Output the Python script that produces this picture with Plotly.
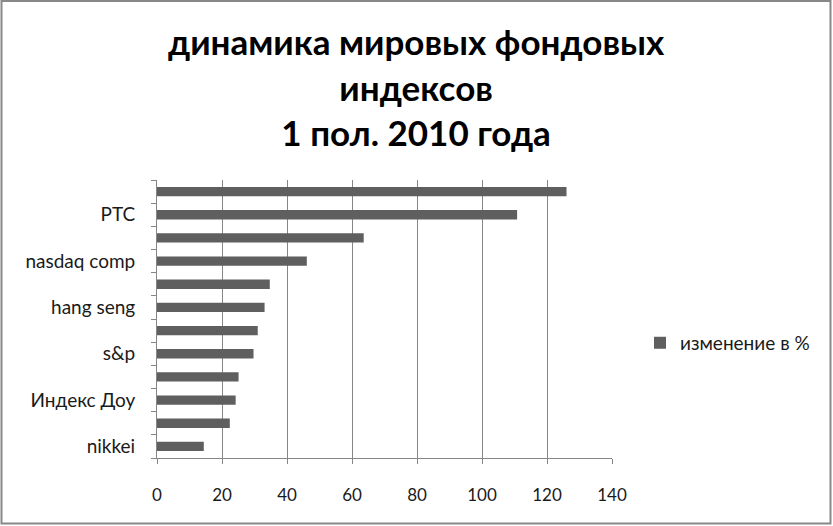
import plotly.graph_objects as go

# indices, top to bottom (only every other label is printed on the chart)
indices = ['ММВБ', 'PTC', 'Bovespa', 'nasdaq comp', 'DAX', 'hang seng',
           'FTSE 100', 's&p', 'CAC 40', 'Индекс Доу', 'Shanghai', 'nikkei']
shown_labels = ['', 'PTC', '', 'nasdaq comp', '', 'hang seng',
                '', 's&p', '', 'Индекс Доу', '', 'nikkei']
change_pct = [126.0, 110.8, 63.6, 46.1, 34.7, 33.1, 31.0, 29.7, 25.1, 24.2, 22.4, 14.4]
x_ticks = [0, 20, 40, 60, 80, 100, 120, 140]

FONT = 'Lato'
GRID = '#868686'

fig = go.Figure(
    go.Bar(
        x=change_pct,
        y=indices,
        orientation='h',
        name='изменение в %',
        marker=dict(color='#5f5f5f', line=dict(width=0)),
        width=0.4,
    )
)

fig.update_layout(
    width=833, height=526,
    margin=dict(l=157, r=221, t=180, b=68, autoexpand=False),
    paper_bgcolor='white',
    plot_bgcolor='white',
    font=dict(family=FONT, size=19, color='#1a1a1a'),
    showlegend=True,
    legend=dict(
        x=1.0615, xanchor='left', y=0.414, yanchor='middle',
        font=dict(size=19), bgcolor='rgba(0,0,0,0)',
    ),
    annotations=[
        dict(
            text='динамика мировых фондовых<br>индексов<br>1 пол. 2010 года',
            x=0.5703, xref='paper', xanchor='center',
            y=1.338, yref='paper', yanchor='middle',
            showarrow=False, align='center',
            font=dict(family=FONT, size=35, color='black', weight='bold'),
        )
    ],
    shapes=[
        # outer chart border
        dict(type='rect', xref='paper', yref='paper',
             x0=-0.3418, x1=1.4802, y0=-0.2356, y1=1.6439,
             line=dict(color='#888888', width=2), layer='below')
    ],
)

fig.update_xaxes(
    range=[0, 140],
    tickvals=x_ticks,
    showgrid=True, gridcolor=GRID, gridwidth=1,
    showline=True, linecolor=GRID, linewidth=1,
    ticks='outside', ticklen=5, tickcolor=GRID,
    ticklabelstandoff=17,
    zeroline=False,
    tickfont=dict(size=17),
)

fig.update_yaxes(
    type='category',
    autorange='reversed',
    tickvals=indices,
    ticktext=shown_labels,
    tickson='boundaries',
    showline=True, linecolor=GRID, linewidth=1,
    ticks='outside', ticklen=5, tickcolor=GRID,
    ticklabelstandoff=17,
    showgrid=False,
    tickfont=dict(size=19),
)

fig.write_html('out.html', config={'displayModeBar': False},
               post_script="document.body.style.margin='0';")
